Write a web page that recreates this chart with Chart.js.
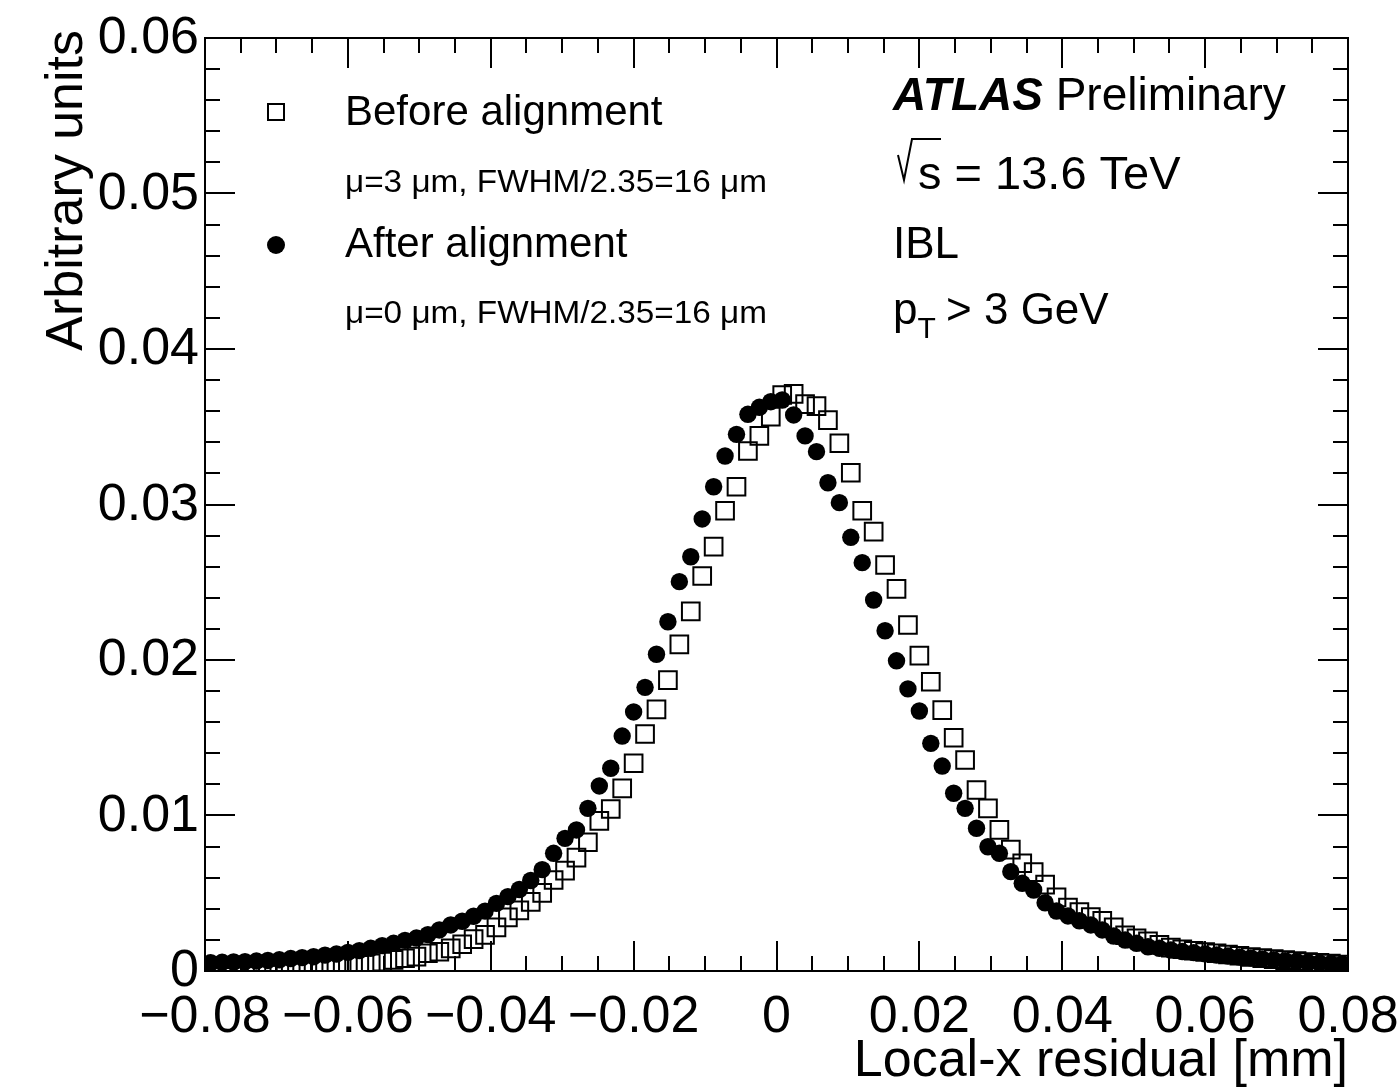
<!DOCTYPE html>
<html>
<head>
<meta charset="utf-8">
<title>IBL local-x residual</title>
<script src="https://cdn.jsdelivr.net/npm/chart.js@4.4.1/dist/chart.umd.min.js"></script>
<style>
  html, body { margin: 0; padding: 0; background: #fff; }
  canvas { display: block; }
</style>
</head>
<body>
<canvas id="residualChart" width="1400" height="1087"></canvas>
<script>
// 100 bins of 1.6 um between -0.08 and 0.08 mm
const binLow = -0.08;
const binWidth = 0.0016;

const afterAlignment = [
  0.00053, 0.00056, 0.00058, 0.00060, 0.00064, 0.00068, 0.00072, 0.00080, 0.00086, 0.00092,
  0.00102, 0.00109, 0.00120, 0.00131, 0.00146, 0.00163, 0.00178, 0.00197, 0.00212, 0.00234,
  0.00264, 0.00296, 0.00320, 0.00352, 0.00385, 0.00435, 0.00478, 0.00524, 0.00582, 0.00652,
  0.00757, 0.00853, 0.00907, 0.01046, 0.01190, 0.01304, 0.01511, 0.01666, 0.01824, 0.02037,
  0.02246, 0.02504, 0.02664, 0.02907, 0.03114, 0.03312, 0.03451, 0.03580, 0.03625, 0.03661,
  0.03672, 0.03576, 0.03441, 0.03340, 0.03140, 0.03012, 0.02789, 0.02626, 0.02386, 0.02188,
  0.01995, 0.01814, 0.01672, 0.01464, 0.01318, 0.01143, 0.01046, 0.00918, 0.00799, 0.00757,
  0.00639, 0.00564, 0.00521, 0.00439, 0.00386, 0.00354, 0.00323, 0.00296, 0.00264, 0.00225,
  0.00199, 0.00178, 0.00156, 0.00146, 0.00135, 0.00125, 0.00118, 0.00110, 0.00103, 0.00096,
  0.00090, 0.00084, 0.00078, 0.00072, 0.00066, 0.00061, 0.00056, 0.00052, 0.00048, 0.00045
];

const beforeAlignment = [
  0.00020, 0.00020, 0.00020, 0.00021, 0.00022, 0.00022, 0.00023, 0.00024, 0.00025, 0.00026,
  0.00028, 0.00030, 0.00032, 0.00039, 0.00050, 0.00060, 0.00071, 0.00082, 0.00092, 0.00114,
  0.00124, 0.00146, 0.00172, 0.00205, 0.00232, 0.00280, 0.00345, 0.00390, 0.00445, 0.00502,
  0.00585, 0.00645, 0.00729, 0.00828, 0.00965, 0.01042, 0.01175, 0.01336, 0.01524, 0.01683,
  0.01871, 0.02100, 0.02313, 0.02540, 0.02729, 0.02960, 0.03114, 0.03344, 0.03441, 0.03565,
  0.03704, 0.03711, 0.03646, 0.03633, 0.03543, 0.03394, 0.03204, 0.02960, 0.02825, 0.02611,
  0.02457, 0.02225, 0.02028, 0.01860, 0.01678, 0.01500, 0.01357, 0.01164, 0.01046, 0.00907,
  0.00780, 0.00693, 0.00636, 0.00556, 0.00473, 0.00408, 0.00379, 0.00347, 0.00322, 0.00280,
  0.00230, 0.00210, 0.00190, 0.00168, 0.00150, 0.00140, 0.00130, 0.00122, 0.00114, 0.00106,
  0.00098, 0.00090, 0.00083, 0.00076, 0.00070, 0.00064, 0.00058, 0.00052, 0.00047, 0.00042
];

const xTicks = [-0.08, -0.06, -0.04, -0.02, 0, 0.02, 0.04, 0.06, 0.08];
const xTickLabels = ['\u22120.08', '\u22120.06', '\u22120.04', '\u22120.02', '0', '0.02', '0.04', '0.06', '0.08'];
const yTicks = [0, 0.01, 0.02, 0.03, 0.04, 0.05, 0.06];
const yTickLabels = ['0', '0.01', '0.02', '0.03', '0.04', '0.05', '0.06'];

const FONT = '"Liberation Sans", Arial, Helvetica, sans-serif';

function toPoints(values) {
  return values.map((v, i) => ({ x: binLow + binWidth * (i + 0.5), y: v }));
}

// squeeze or stretch a line of text to a given width
function fitText(ctx, text, x, y, width) {
  const w = ctx.measureText(text).width;
  ctx.save();
  ctx.translate(x, y);
  ctx.scale(width / w, 1);
  ctx.fillText(text, 0, 0);
  ctx.restore();
}

// frame, inward ticks on all four sides, labels and the ATLAS text block
const rootFrame = {
  id: 'rootFrame',
  afterDraw(chart) {
    const ctx = chart.ctx;
    const area = chart.chartArea;
    const xs = chart.scales.x;
    const ys = chart.scales.y;

    ctx.save();
    ctx.strokeStyle = '#000';
    ctx.lineWidth = 2;
    ctx.strokeRect(area.left, area.top, area.right - area.left, area.bottom - area.top);

    ctx.beginPath();
    // x ticks, minor every 0.005
    for (let k = 0; k <= 32; k++) {
      const v = -0.08 + k * 0.005;
      const px = Math.round(xs.getPixelForValue(v));
      const len = k % 4 === 0 ? 30 : 15;
      ctx.moveTo(px, area.bottom); ctx.lineTo(px, area.bottom - len);
      ctx.moveTo(px, area.top); ctx.lineTo(px, area.top + len);
    }
    // y ticks, minor every 0.002
    for (let k = 0; k <= 30; k++) {
      const v = k * 0.002;
      const py = Math.round(ys.getPixelForValue(v));
      const len = k % 5 === 0 ? 30 : 15;
      ctx.moveTo(area.left, py); ctx.lineTo(area.left + len, py);
      ctx.moveTo(area.right, py); ctx.lineTo(area.right - len, py);
    }
    ctx.stroke();

    ctx.fillStyle = '#000';
    ctx.font = '52px ' + FONT;
    ctx.textBaseline = 'middle';
    ctx.textAlign = 'center';
    xTicks.forEach((v, i) => {
      ctx.fillText(xTickLabels[i], xs.getPixelForValue(v), 1018);
    });
    ctx.textAlign = 'right';
    yTicks.forEach((v, i) => {
      ctx.fillText(yTickLabels[i], 199, ys.getPixelForValue(v) + 1);
    });

    // axis titles
    ctx.textAlign = 'right';
    ctx.fillText('Local-x residual [mm]', area.right, 1062);
    ctx.save();
    ctx.translate(68, 30);
    ctx.rotate(-Math.PI / 2);
    ctx.fillText('Arbitrary units', 0, 0);
    ctx.restore();

    // legend
    ctx.lineWidth = 2;
    ctx.strokeRect(268, 104, 16, 16);
    ctx.beginPath();
    ctx.arc(276, 245, 9, 0, Math.PI * 2);
    ctx.fill();
    ctx.textAlign = 'left';
    ctx.font = '42px ' + FONT;
    ctx.fillText('Before alignment', 345, 113);
    ctx.fillText('After alignment', 345, 245);
    ctx.font = '31px ' + FONT;
    fitText(ctx, '\u03bc=3 \u03bcm, FWHM/2.35=16 \u03bcm', 345, 183, 422);
    fitText(ctx, '\u03bc=0 \u03bcm, FWHM/2.35=16 \u03bcm', 345, 314, 422);

    // ATLAS label block
    ctx.font = 'italic bold 46px ' + FONT;
    ctx.fillText('ATLAS', 893, 97);
    const w = ctx.measureText('ATLAS ').width;
    ctx.font = '46px ' + FONT;
    ctx.fillText('Preliminary', 893 + w, 97);

    // square root sign drawn as strokes
    ctx.beginPath();
    ctx.moveTo(898, 155);
    ctx.lineTo(904, 180);
    ctx.lineTo(912, 139);
    ctx.lineTo(941, 139);
    ctx.lineWidth = 2;
    ctx.stroke();
    ctx.font = '47px ' + FONT;
    ctx.fillText('s = 13.6 TeV', 918, 176);

    ctx.font = '44px ' + FONT;
    ctx.fillText('IBL', 893, 246);

    ctx.fillText('p', 893, 312);
    const pw = ctx.measureText('p').width;
    ctx.font = '30px ' + FONT;
    ctx.fillText('T', 893 + pw, 330);
    const tw = ctx.measureText('T').width;
    ctx.font = '44px ' + FONT;
    ctx.fillText(' > 3 GeV', 893 + pw + tw - 2, 312);
    ctx.restore();
  }
};

new Chart(document.getElementById('residualChart').getContext('2d'), {
  type: 'scatter',
  data: {
    datasets: [
      {
        label: 'After alignment',
        data: toPoints(afterAlignment),
        pointStyle: 'circle',
        pointRadius: 8.7,
        backgroundColor: '#000',
        borderWidth: 0,
        order: 0
      },
      {
        label: 'Before alignment',
        data: toPoints(beforeAlignment),
        pointStyle: 'rect',
        pointRadius: 12.5,
        backgroundColor: 'rgba(0,0,0,0)',
        borderColor: '#000',
        borderWidth: 2,
        order: 1
      }
    ]
  },
  options: {
    responsive: false,
    animation: false,
    devicePixelRatio: 1,
    layout: { padding: { left: 205, right: 52, top: 38, bottom: 116 } },
    scales: {
      x: { type: 'linear', min: -0.08, max: 0.08, display: false },
      y: { type: 'linear', min: 0, max: 0.06, display: false }
    },
    plugins: {
      legend: { display: false },
      tooltip: { enabled: false }
    }
  },
  plugins: [rootFrame]
});
</script>
</body>
</html>
